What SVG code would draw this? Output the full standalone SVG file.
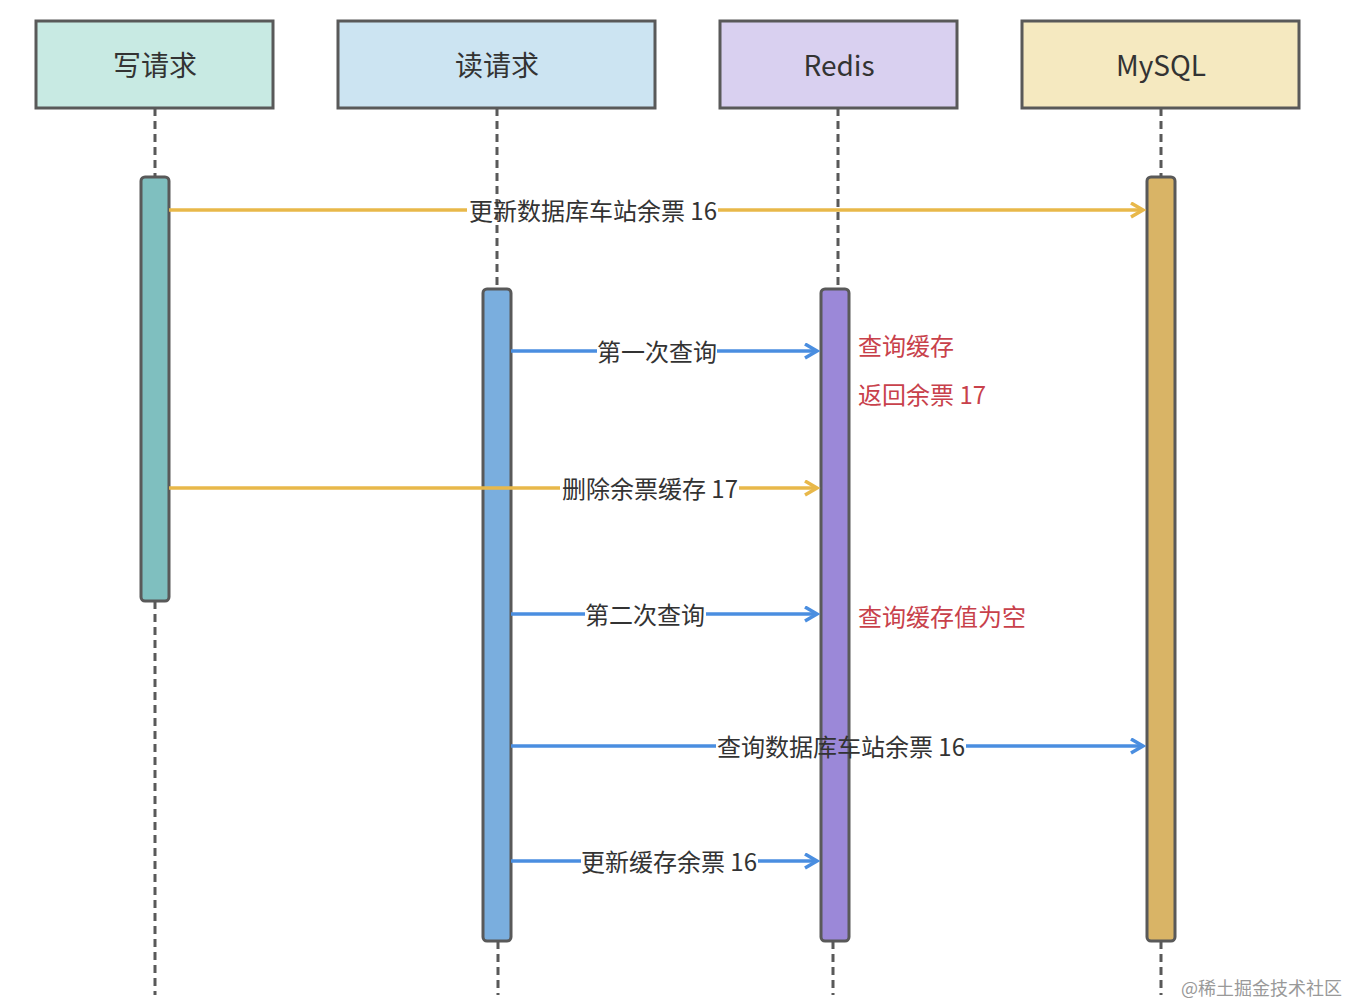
<svg xmlns="http://www.w3.org/2000/svg" width="1347" height="1005" viewBox="0 0 1347 1005">
<style>
text{font-family:"Noto Sans CJK SC","Noto Sans",sans-serif;}
.hdr{stroke:#595959;stroke-width:3;}
.ht{font-size:28px;fill:#333;text-anchor:middle;dominant-baseline:central;}
.life{stroke:#595959;stroke-width:3;stroke-dasharray:8 5;fill:none;}
.act{stroke:#595959;stroke-width:3;}
.y{stroke:#e8b84a;stroke-width:3.5;fill:none;}
.b{stroke:#4a8ee0;stroke-width:3.5;fill:none;}
.lbl{font-size:24px;fill:#333;text-anchor:middle;dominant-baseline:central;}
.note{font-size:24px;fill:#c8414b;dominant-baseline:central;}
</style>
<defs>
<marker id="ay" markerUnits="userSpaceOnUse" markerWidth="20" markerHeight="20" refX="16" refY="8" orient="auto">
<path d="M4,1 L16,8 L4,15" fill="none" stroke="#e8b84a" stroke-width="3.5"/>
</marker>
<marker id="ab" markerUnits="userSpaceOnUse" markerWidth="20" markerHeight="20" refX="16" refY="8" orient="auto">
<path d="M4,1 L16,8 L4,15" fill="none" stroke="#4a8ee0" stroke-width="3.5"/>
</marker>
</defs>
<rect width="1347" height="1005" fill="#fff"/>
<g id="lifelines">
<line class="life" x1="155" y1="108" x2="155" y2="177"/>
<line class="life" x1="155" y1="601" x2="155" y2="995"/>
<line class="life" x1="497" y1="108" x2="497" y2="289"/>
<line class="life" x1="498" y1="941" x2="498" y2="995"/>
<line class="life" x1="838" y1="108" x2="838" y2="289"/>
<line class="life" x1="833" y1="941" x2="833" y2="995"/>
<line class="life" x1="1161" y1="108" x2="1161" y2="177"/>
<line class="life" x1="1161" y1="941" x2="1161" y2="995"/>
</g>
<g id="node-write">
<rect class="hdr" x="36" y="21" width="237" height="87" fill="#c8eae3"/>
<text class="ht" x="155" y="64">写请求</text>
</g>
<g id="node-read">
<rect class="hdr" x="338" y="21" width="317" height="87" fill="#cce4f2"/>
<text class="ht" x="497" y="64">读请求</text>
</g>
<g id="node-redis">
<rect class="hdr" x="720" y="21" width="237" height="87" fill="#d9d0f0"/>
<text class="ht" x="839" y="64">Redis</text>
</g>
<g id="node-mysql">
<rect class="hdr" x="1022" y="21" width="277" height="87" fill="#f5e9c0"/>
<text class="ht" x="1161" y="64">MySQL</text>
</g>
<g id="activations">
<rect class="act" x="141" y="177" width="28" height="424" rx="4" fill="#7fbfbf"/>
<rect class="act" x="483" y="289" width="28" height="652" rx="4" fill="#7aaede"/>
<rect class="act" x="821" y="289" width="28" height="652" rx="4" fill="#9b88d8"/>
<rect class="act" x="1147" y="177" width="28" height="764" rx="4" fill="#d9b466"/>
</g>
<g id="connectors">
<line class="y" x1="169" y1="210" x2="467" y2="210"/>
<line class="y" x1="718" y1="210" x2="1143" y2="210" marker-end="url(#ay)"/>
<line class="b" x1="511" y1="351" x2="597" y2="351"/>
<line class="b" x1="717" y1="351" x2="817" y2="351" marker-end="url(#ab)"/>
<line class="y" x1="169" y1="488" x2="560" y2="488"/>
<line class="y" x1="739" y1="488" x2="817" y2="488" marker-end="url(#ay)"/>
<line class="b" x1="511" y1="614" x2="585" y2="614"/>
<line class="b" x1="706" y1="614" x2="817" y2="614" marker-end="url(#ab)"/>
<line class="b" x1="511" y1="746" x2="716" y2="746"/>
<line class="b" x1="966" y1="746" x2="1143" y2="746" marker-end="url(#ab)"/>
<line class="b" x1="511" y1="861" x2="581" y2="861"/>
<line class="b" x1="758" y1="861" x2="817" y2="861" marker-end="url(#ab)"/>
<text class="lbl" x="593" y="209">更新数据库车站余票 16</text>
<text class="lbl" x="657" y="350">第一次查询</text>
<text class="lbl" x="650" y="487">删除余票缓存 17</text>
<text class="lbl" x="645" y="613">第二次查询</text>
<text class="lbl" x="841" y="745">查询数据库车站余票 16</text>
<text class="lbl" x="669" y="860">更新缓存余票 16</text>
</g>
<g id="notes">
<text class="note" x="858" y="344">查询缓存</text>
<text class="note" x="858" y="393">返回余票 17</text>
<text class="note" x="858" y="615">查询缓存值为空</text>
</g>
<text x="1181" y="987" font-size="18" fill="#999" dominant-baseline="central">@稀土掘金技术社区</text>
</svg>
